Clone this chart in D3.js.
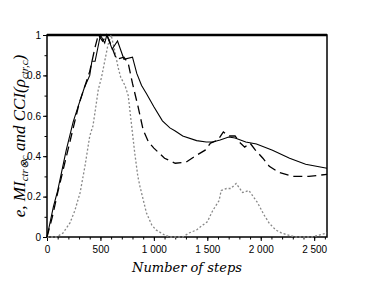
<!DOCTYPE html>
<html>
<head>
<meta charset="utf-8">
<script src="https://cdn.jsdelivr.net/npm/d3@7"></script>
<style>
  body { margin: 0; background: #fff; }
  .tick text { font-family: "Liberation Sans", Arial, sans-serif; font-size: 10px; }
  .lbl { font-family: "DejaVu Serif", "Liberation Serif", serif; font-style: italic; }
  .ylbl { font-family: "Liberation Serif", serif; font-style: italic; }
</style>
</head>
<body>
<svg width="374" height="282"></svg>
<script>
// solid line: e
var solid = [[0,0],[60,0.15],[100,0.23],[180,0.43],[245,0.57],[300,0.66],[350,0.74],[400,0.8],[420,0.87],[450,0.87],
  [500,1.0],[540,0.96],[560,1.0],[610,0.93],[660,0.97],[720,0.88],[800,0.89],[840,0.81],[885,0.75],[930,0.71],
  [1000,0.645],[1080,0.575],[1150,0.54],[1200,0.525],[1270,0.5],[1400,0.477],[1490,0.47],[1550,0.47],[1620,0.48],
  [1700,0.495],[1760,0.49],[1860,0.47],[1960,0.46],[2110,0.43],[2270,0.39],[2420,0.36],[2620,0.34]];

// dashed line: MI
var dashed = [[0,0],[50,0.1],[100,0.22],[150,0.33],[200,0.44],[250,0.55],[300,0.66],[350,0.74],[400,0.82],[450,0.94],
  [480,1.0],[520,0.97],[560,1.0],[600,0.95],[650,0.88],[720,0.89],[760,0.86],[800,0.76],[850,0.65],[900,0.53],
  [950,0.47],[1000,0.44],[1100,0.39],[1200,0.365],[1300,0.37],[1400,0.405],[1480,0.43],[1530,0.465],[1600,0.48],
  [1650,0.52],[1700,0.5],[1760,0.5],[1800,0.47],[1850,0.445],[1900,0.465],[1950,0.43],[2020,0.39],[2080,0.35],
  [2170,0.32],[2300,0.30],[2450,0.30],[2620,0.31]];

// dotted grey line: CCI
var dotted = [[0,0],[90,0],[150,0.02],[215,0.07],[260,0.13],[310,0.22],[355,0.35],[400,0.5],[430,0.55],[450,0.62],
  [480,0.73],[510,0.79],[540,0.87],[570,0.95],[600,1.0],[635,0.92],[665,0.84],[690,0.79],[730,0.75],[760,0.7],
  [790,0.56],[820,0.42],[850,0.3],[870,0.25],[930,0.12],[980,0.06],[1020,0.035],[1100,0.01],[1150,0],[1270,0],
  [1330,0.02],[1400,0.035],[1460,0.06],[1500,0.075],[1550,0.13],[1610,0.18],[1630,0.23],[1680,0.24],[1720,0.24],
  [1770,0.265],[1830,0.22],[1890,0.23],[1970,0.17],[2030,0.11],[2080,0.068],[2140,0.035],[2200,0.018],[2330,0],
  [2480,0],[2620,0.02]];

var xTicks = [0, 500, 1000, 1500, 2000, 2500];
var yTicks = [0, 0.2, 0.4, 0.6, 0.8, 1];

var svg = d3.select("svg"),
    mLeft = 47, mRight = 327, mTop = 35, mBottom = 237;

var x = d3.scaleLinear().domain([0, 2620]).range([mLeft, mRight]),
    y = d3.scaleLinear().domain([0, 1]).range([mBottom, mTop]);

// minor ticks
svg.append("g").attr("transform", "translate(0," + mBottom + ")")
   .call(d3.axisBottom(x).tickValues(d3.range(0, 2601, 100)).tickSize(2.5).tickFormat(""))
   .call(function(g) { g.select(".domain").remove(); });
svg.append("g").attr("transform", "translate(" + mLeft + ",0)")
   .call(d3.axisLeft(y).tickValues(d3.range(0, 1.01, 0.1)).tickSize(2.5).tickFormat(""))
   .call(function(g) { g.select(".domain").remove(); });

// major ticks
svg.append("g").attr("transform", "translate(0," + mBottom + ")")
   .call(d3.axisBottom(x).tickValues(xTicks).tickSizeInner(4).tickSizeOuter(0).tickPadding(5)
     .tickFormat(function(d) { return d3.format(",")(d).replace(",", " "); }))
   .call(function(g) { g.select(".domain").remove(); });
svg.append("g").attr("transform", "translate(" + mLeft + ",0)")
   .call(d3.axisLeft(y).tickValues(yTicks).tickSizeInner(4).tickSizeOuter(0).tickPadding(2)
     .tickFormat(function(d) { return d3.format("")(d); }))
   .call(function(g) { g.select(".domain").remove(); });

// frame
svg.append("rect").attr("x", mLeft).attr("y", mTop).attr("width", mRight - mLeft).attr("height", mBottom - mTop)
   .attr("fill", "none").attr("stroke", "#000").attr("stroke-width", 1.5);
svg.append("line").attr("x1", mLeft).attr("x2", mRight).attr("y1", mTop).attr("y2", mTop)
   .attr("stroke", "#000").attr("stroke-width", 2.5);

var line = d3.line().x(function(d) { return x(d[0]); }).y(function(d) { return y(d[1]); });

svg.append("path").datum(dotted).attr("d", line).attr("fill", "none")
   .attr("stroke", "#888").attr("stroke-width", 1.3).attr("stroke-dasharray", "2,2");
svg.append("path").datum(dashed).attr("d", line).attr("fill", "none")
   .attr("stroke", "#000").attr("stroke-width", 1.3).attr("stroke-dasharray", "9,5");
svg.append("path").datum(solid).attr("d", line).attr("fill", "none")
   .attr("stroke", "#000").attr("stroke-width", 1.1);

// axis labels
svg.append("text").attr("class", "lbl").attr("x", (mLeft + mRight) / 2).attr("y", 272)
   .attr("text-anchor", "middle").attr("font-size", 13).text("Number of steps");

var yl = svg.append("text").attr("class", "ylbl")
   .attr("transform", "translate(25," + ((mTop + mBottom) / 2) + ") rotate(-90)")
   .attr("text-anchor", "middle").attr("font-size", 17);
yl.append("tspan").text("e, MI");
yl.append("tspan").attr("font-size", 11).attr("dy", 3).text("ctr\u2297c");
yl.append("tspan").attr("dy", -3).text(" and CCI(\u03C1");
yl.append("tspan").attr("font-size", 11).attr("dy", 3).text("ctr,c");
yl.append("tspan").attr("dy", -3).text(")");
</script>
</body>
</html>
